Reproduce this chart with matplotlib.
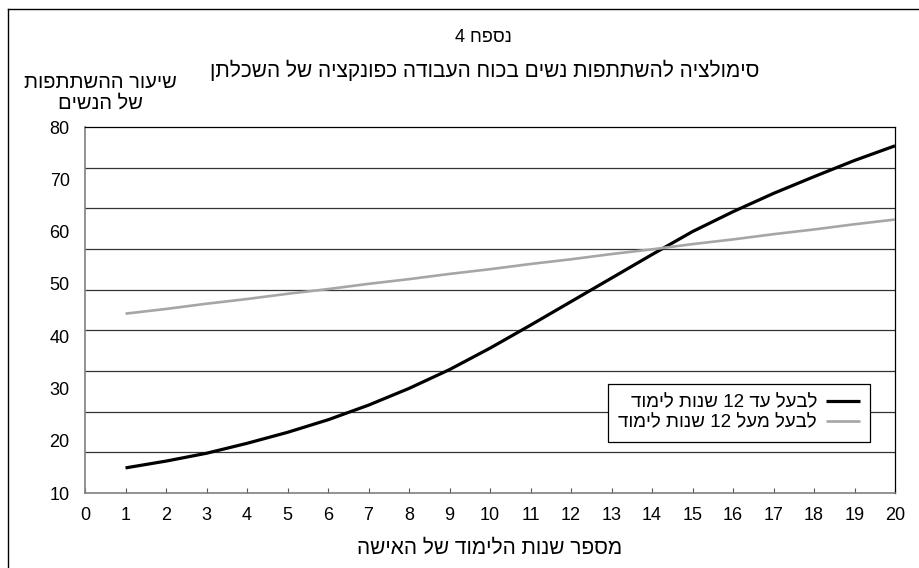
import re
import numpy as np
import matplotlib
matplotlib.use("Agg")
import matplotlib.pyplot as plt
from matplotlib.lines import Line2D

# ---------------- data ----------------
years = [1, 2, 3, 4, 5, 6, 7, 8, 9, 10, 11, 12, 13, 14, 15, 16, 17, 18, 19, 20]
husband_upto12 = [14.8, 16.1, 17.6, 19.5, 21.6, 24.0, 26.8, 30.0, 33.6, 37.7,
                  42.1, 46.6, 51.1, 55.6, 60.0, 63.8, 67.3, 70.5, 73.6, 76.4]
husband_over12 = [44.3, 45.2, 46.2, 47.1, 48.1, 49.0, 50.0, 50.9, 51.9, 52.8,
                  53.8, 54.7, 55.7, 56.6, 57.6, 58.5, 59.5, 60.4, 61.4, 62.3]
x_ticks = list(range(0, 21))
y_ticks = [10, 20, 30, 40, 50, 60, 70, 80]

title_top = "נספח 4"
title_main = "סימולציה להשתתפות נשים בכוח העבודה כפונקציה של השכלתן"
ylabel_lines = ["שיעור ההשתתפות", "של הנשים"]
xlabel = "מספר שנות הלימוד של האישה"
legend_labels = ["לבעל עד 12 שנות לימוד", "לבעל מעל 12 שנות לימוד"]


def vis(s):
    """Convert logical RTL Hebrew text to visual order (keep digit runs)."""
    tokens = re.findall(r"\d+|\D", s)
    return "".join(reversed(tokens))


FONT = ["Liberation Sans", "DejaVu Sans"]
plt.rcParams["font.family"] = FONT

fig = plt.figure(figsize=(9.19, 5.68), dpi=100)
W, H = 919, 568
ax = fig.add_axes([85 / W, 1 - 493 / H, (895 - 85) / W, (493 - 127) / H])

# gridlines (9 equal bands across the plot)
for gy in np.linspace(10, 80, 10)[1:-1]:
    ax.axhline(gy, color="#333333", lw=0.9, zorder=1)

ax.plot(years, husband_upto12, color="black", lw=2.3, label=vis(legend_labels[0]),
        zorder=3, solid_capstyle="butt", solid_joinstyle="round")
ax.plot(years, husband_over12, color="#a6a6a6", lw=1.9, label=vis(legend_labels[1]),
        zorder=3, solid_capstyle="butt")

ax.set_xlim(0, 20)
ax.set_ylim(10, 80)
ax.set_xticks(x_ticks)
ax.set_yticks(y_ticks)
ax.tick_params(axis="x", direction="in", length=3.5, width=0.8, color="#555555",
               pad=10, labelsize=13)
ax.tick_params(axis="y", length=0, pad=11, labelsize=13)

for s in ["left", "bottom"]:
    ax.spines[s].set_color("#808080")
    ax.spines[s].set_linewidth(1.2)
for s in ["top", "right"]:
    ax.spines[s].set_color("black")
    ax.spines[s].set_linewidth(0.9)

leg = ax.legend(loc="upper left", bbox_to_anchor=((608 - 85) / 810, (493 - 384) / 366),
                markerfirst=False, frameon=True, fancybox=False, framealpha=1,
                edgecolor="black", fontsize=13.5, handlelength=1.8, handletextpad=0.5,
                borderpad=0.55, labelspacing=0.15, borderaxespad=0)
leg.get_frame().set_linewidth(0.9)
leg.set_zorder(5)

# titles and labels
fig.text(483 / W, 1 - 38 / H, vis(title_top), ha="center", va="center", fontsize=13)
fig.text(485 / W, 1 - 70 / H, vis(title_main), ha="center", va="center", fontsize=15)
fig.text(100 / W, 1 - 93 / H, "\n".join(vis(l) for l in ylabel_lines), ha="center",
         va="center", fontsize=14.5, linespacing=1.1)
fig.text(490 / W, 1 - 548 / H, vis(xlabel), ha="center", va="center", fontsize=15)

# outer frame (left and top edges visible)
fig.add_artist(Line2D([8 / W, 8 / W], [0, 1 - 9 / H], color="black", lw=1,
                      transform=fig.transFigure))
fig.add_artist(Line2D([8 / W, 1], [1 - 9 / H, 1 - 9 / H], color="black", lw=1,
                      transform=fig.transFigure))

fig.savefig("out.png", dpi=100)
